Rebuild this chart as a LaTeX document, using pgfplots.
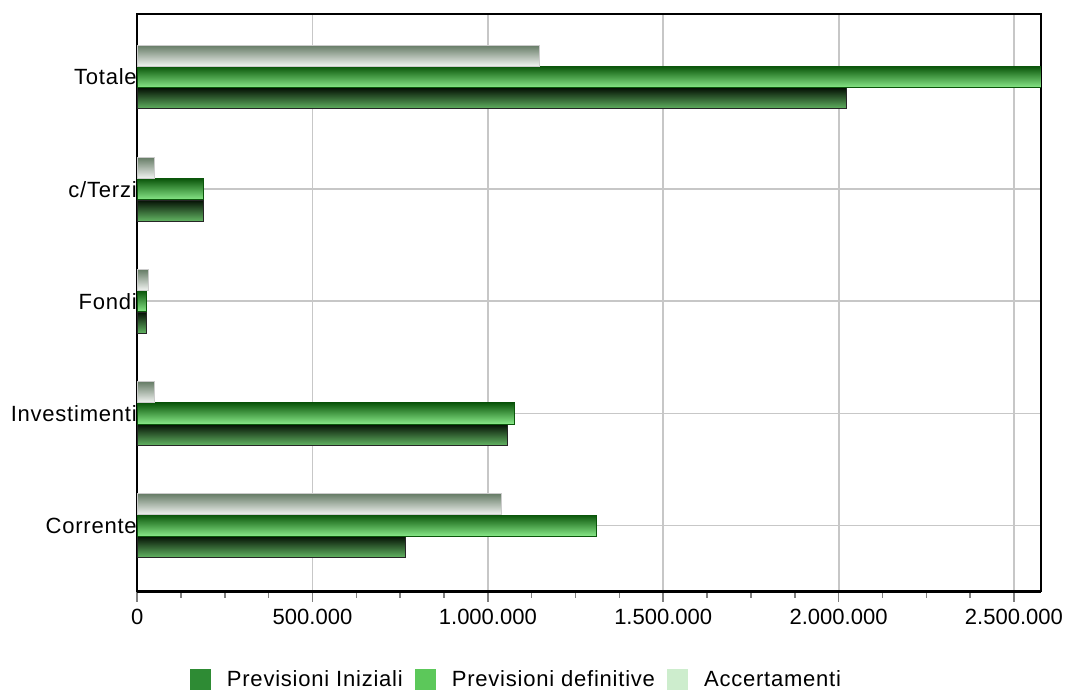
\documentclass[border=0pt]{standalone}
\usepackage{fontspec}
\setmainfont{Liberation Sans}
\newfontfamily\spaced[LetterSpace=3.5]{Liberation Sans}
\usepackage{pgfplots}
\pgfplotsset{compat=1.18}
\definecolor{accTop}{HTML}{667C66}
\definecolor{accBot}{HTML}{F2F4F2}
\definecolor{defTop}{HTML}{0B560B}
\definecolor{defBot}{HTML}{88E888}
\definecolor{iniTop}{HTML}{041004}
\definecolor{iniBot}{HTML}{62B462}
\definecolor{iniL}{HTML}{2E8B34}
\definecolor{defL}{HTML}{5CC85A}
\definecolor{accL}{HTML}{CDEDCD}
\pgfplotsset{
  ini/.style={xbar, bar shift=-0.19, draw=black!85, line width=0.4pt,
    top color=iniTop, bottom color=iniBot, forget plot},
  def/.style={xbar, bar shift=0, draw=defTop, line width=0.4pt,
    top color=defTop, bottom color=defBot, forget plot},
  acc/.style={xbar, bar shift=0.19, draw=black!20, line width=0.4pt,
    top color=accTop, bottom color=accBot, forget plot},
}
\begin{document}
\begin{tikzpicture}
\begin{axis}[
  scale only axis, width=451.5pt, height=288.5pt,
  xmin=0, xmax=2577000, ymin=-0.589, ymax=4.5625,
  xbar, bar width=0.1875,
  ytick={0,1,2,3,4},
  yticklabels={Corrente,Investimenti,Fondi,c/Terzi,Totale},
  xtick={0,500000,1000000,1500000,2000000,2500000},
  xticklabels={0,500.000,1.000.000,1.500.000,2.000.000,2.500.000},
  scaled x ticks=false,
  minor x tick num=3,
  xmajorgrids, ymajorgrids,
  major grid style={draw=black!22, line width=0.9pt},
  tick align=outside, tick pos=left,
  ytick style={draw=none},
  xtick style={draw=black!50, line width=0.75pt},
  major tick length=5pt, minor tick length=3pt,
  tick label style={font=\fontsize{11}{13}\selectfont},
  yticklabel style={inner xsep=0pt, xshift=5pt, font=\fontsize{11}{13}\selectfont\spaced},
  axis line style={line width=0.75pt},
  legend style={at={(0.4208,-0.1525)}, anchor=center, draw=none,
    font=\fontsize{11}{13}\selectfont\spaced, legend columns=3,
    /tikz/every odd column/.append style={column sep=6pt},
    /tikz/every even column/.append style={column sep=4pt}},
  legend image code/.code={\fill[#1] (0pt,-5.25pt) rectangle (10.5pt,5.25pt);},
]
% Corrente
\addplot[ini] coordinates {(765300,0)};
\addplot[def] coordinates {(1309200,0)};
\addplot[acc] coordinates {(1039800,0)};
% Investimenti
\addplot[ini] coordinates {(1057000,1)};
\addplot[def] coordinates {(1077000,1)};
\addplot[acc] coordinates {(50000,1)};
% Fondi
\addplot[ini] coordinates {(25600,2)};
\addplot[def] coordinates {(25600,2)};
\addplot[acc] coordinates {(31000,2)};
% c/Terzi
\addplot[ini] coordinates {(190000,3)};
\addplot[def] coordinates {(190000,3)};
\addplot[acc] coordinates {(50000,3)};
% Totale
\addplot[ini] coordinates {(2021700,4)};
\addplot[def] coordinates {(2577000,4)};
\addplot[acc] coordinates {(1145700,4)};
\addlegendimage{fill=iniL, draw=none}
\addlegendentry{Previsioni Iniziali}
\addlegendimage{fill=defL, draw=none}
\addlegendentry{Previsioni definitive}
\addlegendimage{fill=accL, draw=none}
\addlegendentry{Accertamenti}
\end{axis}
\draw[line width=1.5pt] (current axis.south west) -- (current axis.south east);
\path ([shift={(-68.5pt,-50pt)}]current axis.south west) rectangle ([shift={(14.5pt,7pt)}]current axis.north east);
\end{tikzpicture}
\end{document}
